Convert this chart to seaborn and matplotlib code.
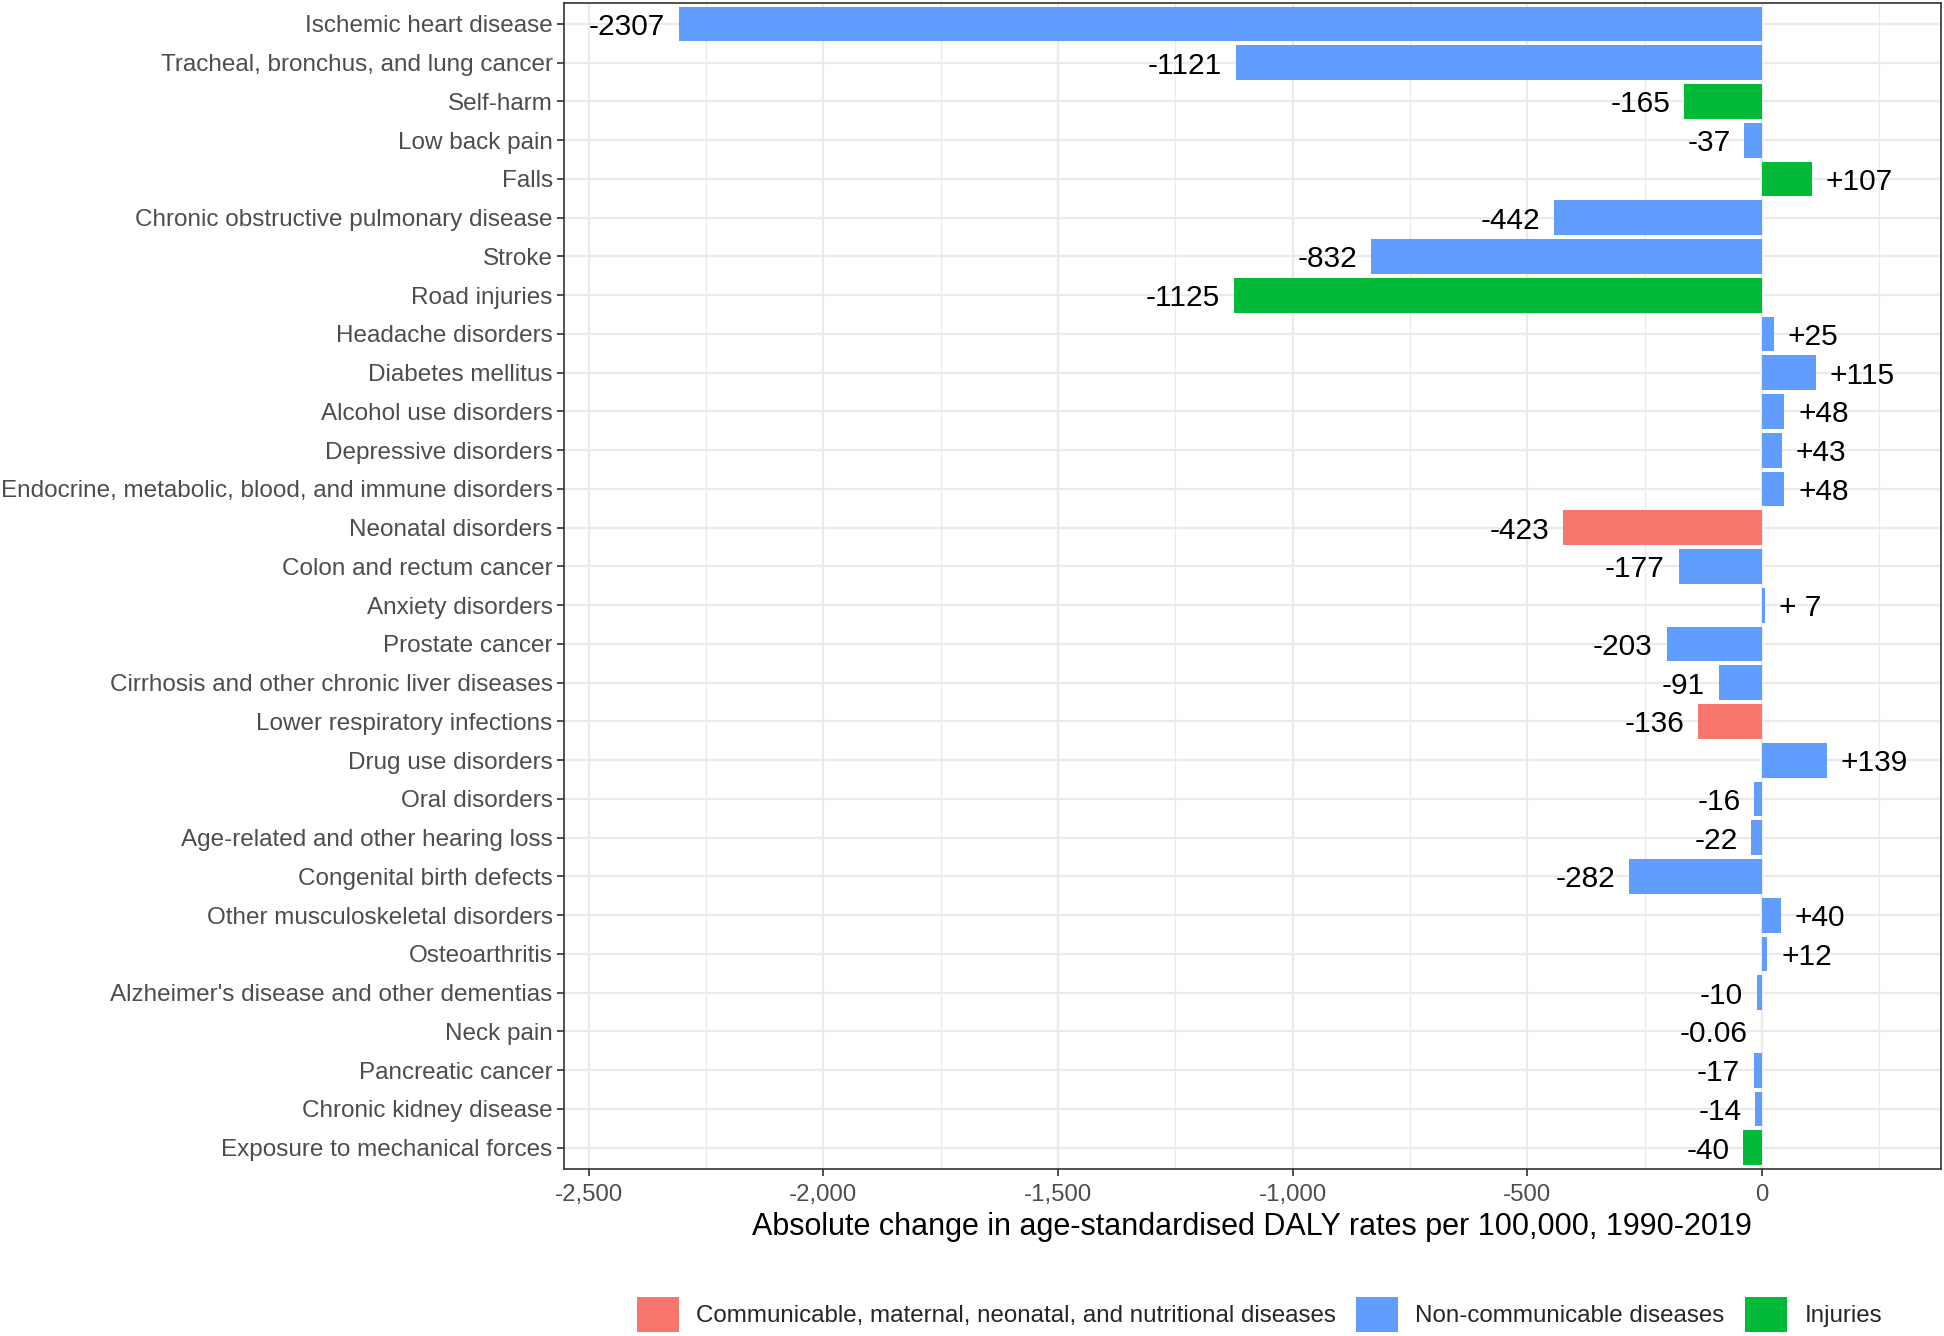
import numpy as np
import pandas as pd
import matplotlib.pyplot as plt
import matplotlib.ticker as mticker
import seaborn as sns

# data
causes = [
    "Ischemic heart disease", "Tracheal, bronchus, and lung cancer", "Self-harm",
    "Low back pain", "Falls", "Chronic obstructive pulmonary disease", "Stroke",
    "Road injuries", "Headache disorders", "Diabetes mellitus", "Alcohol use disorders",
    "Depressive disorders", "Endocrine, metabolic, blood, and immune disorders",
    "Neonatal disorders", "Colon and rectum cancer", "Anxiety disorders",
    "Prostate cancer", "Cirrhosis and other chronic liver diseases",
    "Lower respiratory infections", "Drug use disorders", "Oral disorders",
    "Age-related and other hearing loss", "Congenital birth defects",
    "Other musculoskeletal disorders", "Osteoarthritis",
    "Alzheimer's disease and other dementias", "Neck pain", "Pancreatic cancer",
    "Chronic kidney disease", "Exposure to mechanical forces",
]
change = [-2307, -1121, -165, -37, 107, -442, -832, -1125, 25, 115, 48, 43, 48,
          -423, -177, 7, -203, -91, -136, 139, -16, -22, -282, 40, 12, -10,
          -0.06, -17, -14, -40]
value_labels = ["-2307", "-1121", "-165", "-37", "+107", "-442", "-832", "-1125",
                "+25", "+115", "+48", "+43", "+48", "-423", "-177", "+ 7", "-203",
                "-91", "-136", "+139", "-16", "-22", "-282", "+40", "+12", "-10",
                "-0.06", "-17", "-14", "-40"]
C, N, I = ("Communicable, maternal, neonatal, and nutritional diseases",
           "Non-communicable diseases", "Injuries")
group = [N, N, I, N, I, N, N, I, N, N, N, N, N, C, N, N, N, N, C, N,
         N, N, N, N, N, N, N, N, N, I]
group_order = [C, N, I]
colors = ["#F8766D", "#619CFF", "#00BA38"]

df = pd.DataFrame({"cause": causes, "change": change, "group": group})

sns.set_theme(style="white")
plt.rcParams['font.family'] = ['Liberation Sans', 'DejaVu Sans']

fig = plt.figure(figsize=(19.44, 13.36), dpi=100)
ax = fig.add_axes([0.290, 0.125, 0.7085, 0.873])

sns.barplot(data=df, x="change", y="cause", hue="group", order=causes,
            hue_order=group_order, palette=colors, dodge=False, width=0.9,
            orient="h", ax=ax, saturation=1, linewidth=0)

# value labels next to the bar ends
for i, (v, lab) in enumerate(zip(change, value_labels)):
    if v >= 0 and lab.startswith("+"):
        ax.annotate(lab, (v, i), xytext=(10, 0), textcoords="offset points",
                    ha="left", va="center_baseline", fontsize=21.5, color="black")
    else:
        ax.annotate(lab, (v, i), xytext=(-10, 0), textcoords="offset points",
                    ha="right", va="center_baseline", fontsize=21.5, color="black")

ax.set_xlim(-2553, 382)
ax.set_ylim(len(causes) - 0.45, -0.55)
ax.xaxis.set_major_locator(mticker.MultipleLocator(500))
ax.xaxis.set_minor_locator(mticker.MultipleLocator(250))
ax.xaxis.set_major_formatter(mticker.FuncFormatter(lambda x, p: f"{x:,.0f}"))
ax.grid(True, which="major", color="#EBEBEB", linewidth=1.6)
ax.grid(True, which="minor", axis="x", color="#EBEBEB", linewidth=1.0)
ax.set_axisbelow(True)
ax.tick_params(axis="y", which="major", length=5, width=1.2, color="#333333",
               labelsize=17.5, labelcolor="#4D4D4D", pad=3, left=True)
ax.tick_params(axis="x", which="major", length=5, width=1.2, color="#333333",
               labelsize=17.3, labelcolor="#4D4D4D", pad=6, bottom=True)
ax.tick_params(axis="x", which="minor", length=0)
for s in ax.spines.values():
    s.set_color("#333333")
    s.set_linewidth(1.2)

ax.set_ylabel("")
ax.set_xlabel("Absolute change in age-standardised DALY rates per 100,000, 1990-2019",
              fontsize=22, color="black", labelpad=4)

sns.move_legend(ax, "lower center", bbox_to_anchor=(0.505, -0.158), ncol=3,
                frameon=False, title=None, fontsize=17.4, handlelength=1.75,
                handleheight=1.8, columnspacing=0.85, handletextpad=0.7)

fig.savefig("out.png", dpi=100)
